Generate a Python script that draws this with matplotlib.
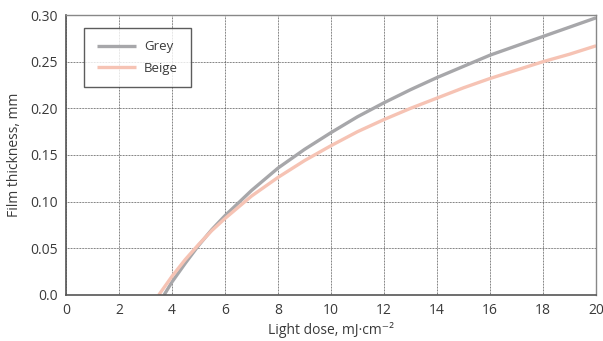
import matplotlib
matplotlib.use("Agg")
import matplotlib.pyplot as plt

# datos
dose_grey = [3.7, 4, 4.5, 5, 5.5, 6, 7, 8, 9, 10, 11, 12, 13, 14, 15, 16, 17, 18, 19, 20]
grey = [0.0, 0.014, 0.034, 0.053, 0.070, 0.085, 0.112, 0.136, 0.156, 0.174, 0.191, 0.206,
        0.220, 0.233, 0.245, 0.257, 0.267, 0.277, 0.287, 0.297]

dose_beige = [3.5, 4, 4.5, 5, 5.5, 6, 7, 8, 9, 10, 11, 12, 13, 14, 15, 16, 17, 18, 19, 20]
beige = [0.0, 0.020, 0.038, 0.054, 0.069, 0.082, 0.106, 0.126, 0.144, 0.160, 0.175, 0.188,
         0.200, 0.211, 0.222, 0.232, 0.241, 0.250, 0.258, 0.267]

x_ticks = [0, 2, 4, 6, 8, 10, 12, 14, 16, 18, 20]
y_ticks = [0.0, 0.05, 0.10, 0.15, 0.20, 0.25, 0.30]
y_labels = ["0.0", "0.05", "0.10", "0.15", "0.20", "0.25", "0.30"]

txt = "#3a3a3a"
plt.rcParams["font.family"] = ["Open Sans", "DejaVu Sans"]

fig = plt.figure(figsize=(6.03, 3.41), dpi=100)
ax = fig.add_axes([0.1095, 0.135, 0.879, 0.821])

ax.plot(dose_grey, grey, color="#a7a7aa", lw=2.4, label="Grey", solid_capstyle="butt")
ax.plot(dose_beige, beige, color="#f6c3b4", lw=2.4, label="Beige", solid_capstyle="butt")

ax.set_xlim(0, 20)
ax.set_ylim(0, 0.30)
ax.set_xticks(x_ticks)
ax.set_yticks(y_ticks)
ax.set_yticklabels(y_labels)
ax.tick_params(length=0, labelsize=10, colors=txt, pad=6)

ax.set_axisbelow(True)
ax.grid(True, color="#333333", linestyle=(0, (1, 1)), linewidth=0.55)
for s in ["left", "bottom"]:
    ax.spines[s].set_color("#555555")
    ax.spines[s].set_linewidth(1.2)
for s in ["top", "right"]:
    ax.spines[s].set_color("#888888")
    ax.spines[s].set_linewidth(1.0)

ax.set_xlabel("Light dose, mJ·cm⁻²", fontsize=10, color=txt, labelpad=3)
ax.set_ylabel("Film thickness, mm", fontsize=10, color=txt, labelpad=6)

leg = ax.legend(loc="upper left", bbox_to_anchor=(0.034, 0.955), fontsize=9.5,
                frameon=True, fancybox=False, handlelength=3.0, borderpad=0.95,
                labelspacing=0.65, handletextpad=0.6, borderaxespad=0)
leg.get_frame().set_edgecolor("#333333")
leg.get_frame().set_linewidth(1.0)
for t in leg.get_texts():
    t.set_color(txt)

fig.savefig("out.png", dpi=100)
